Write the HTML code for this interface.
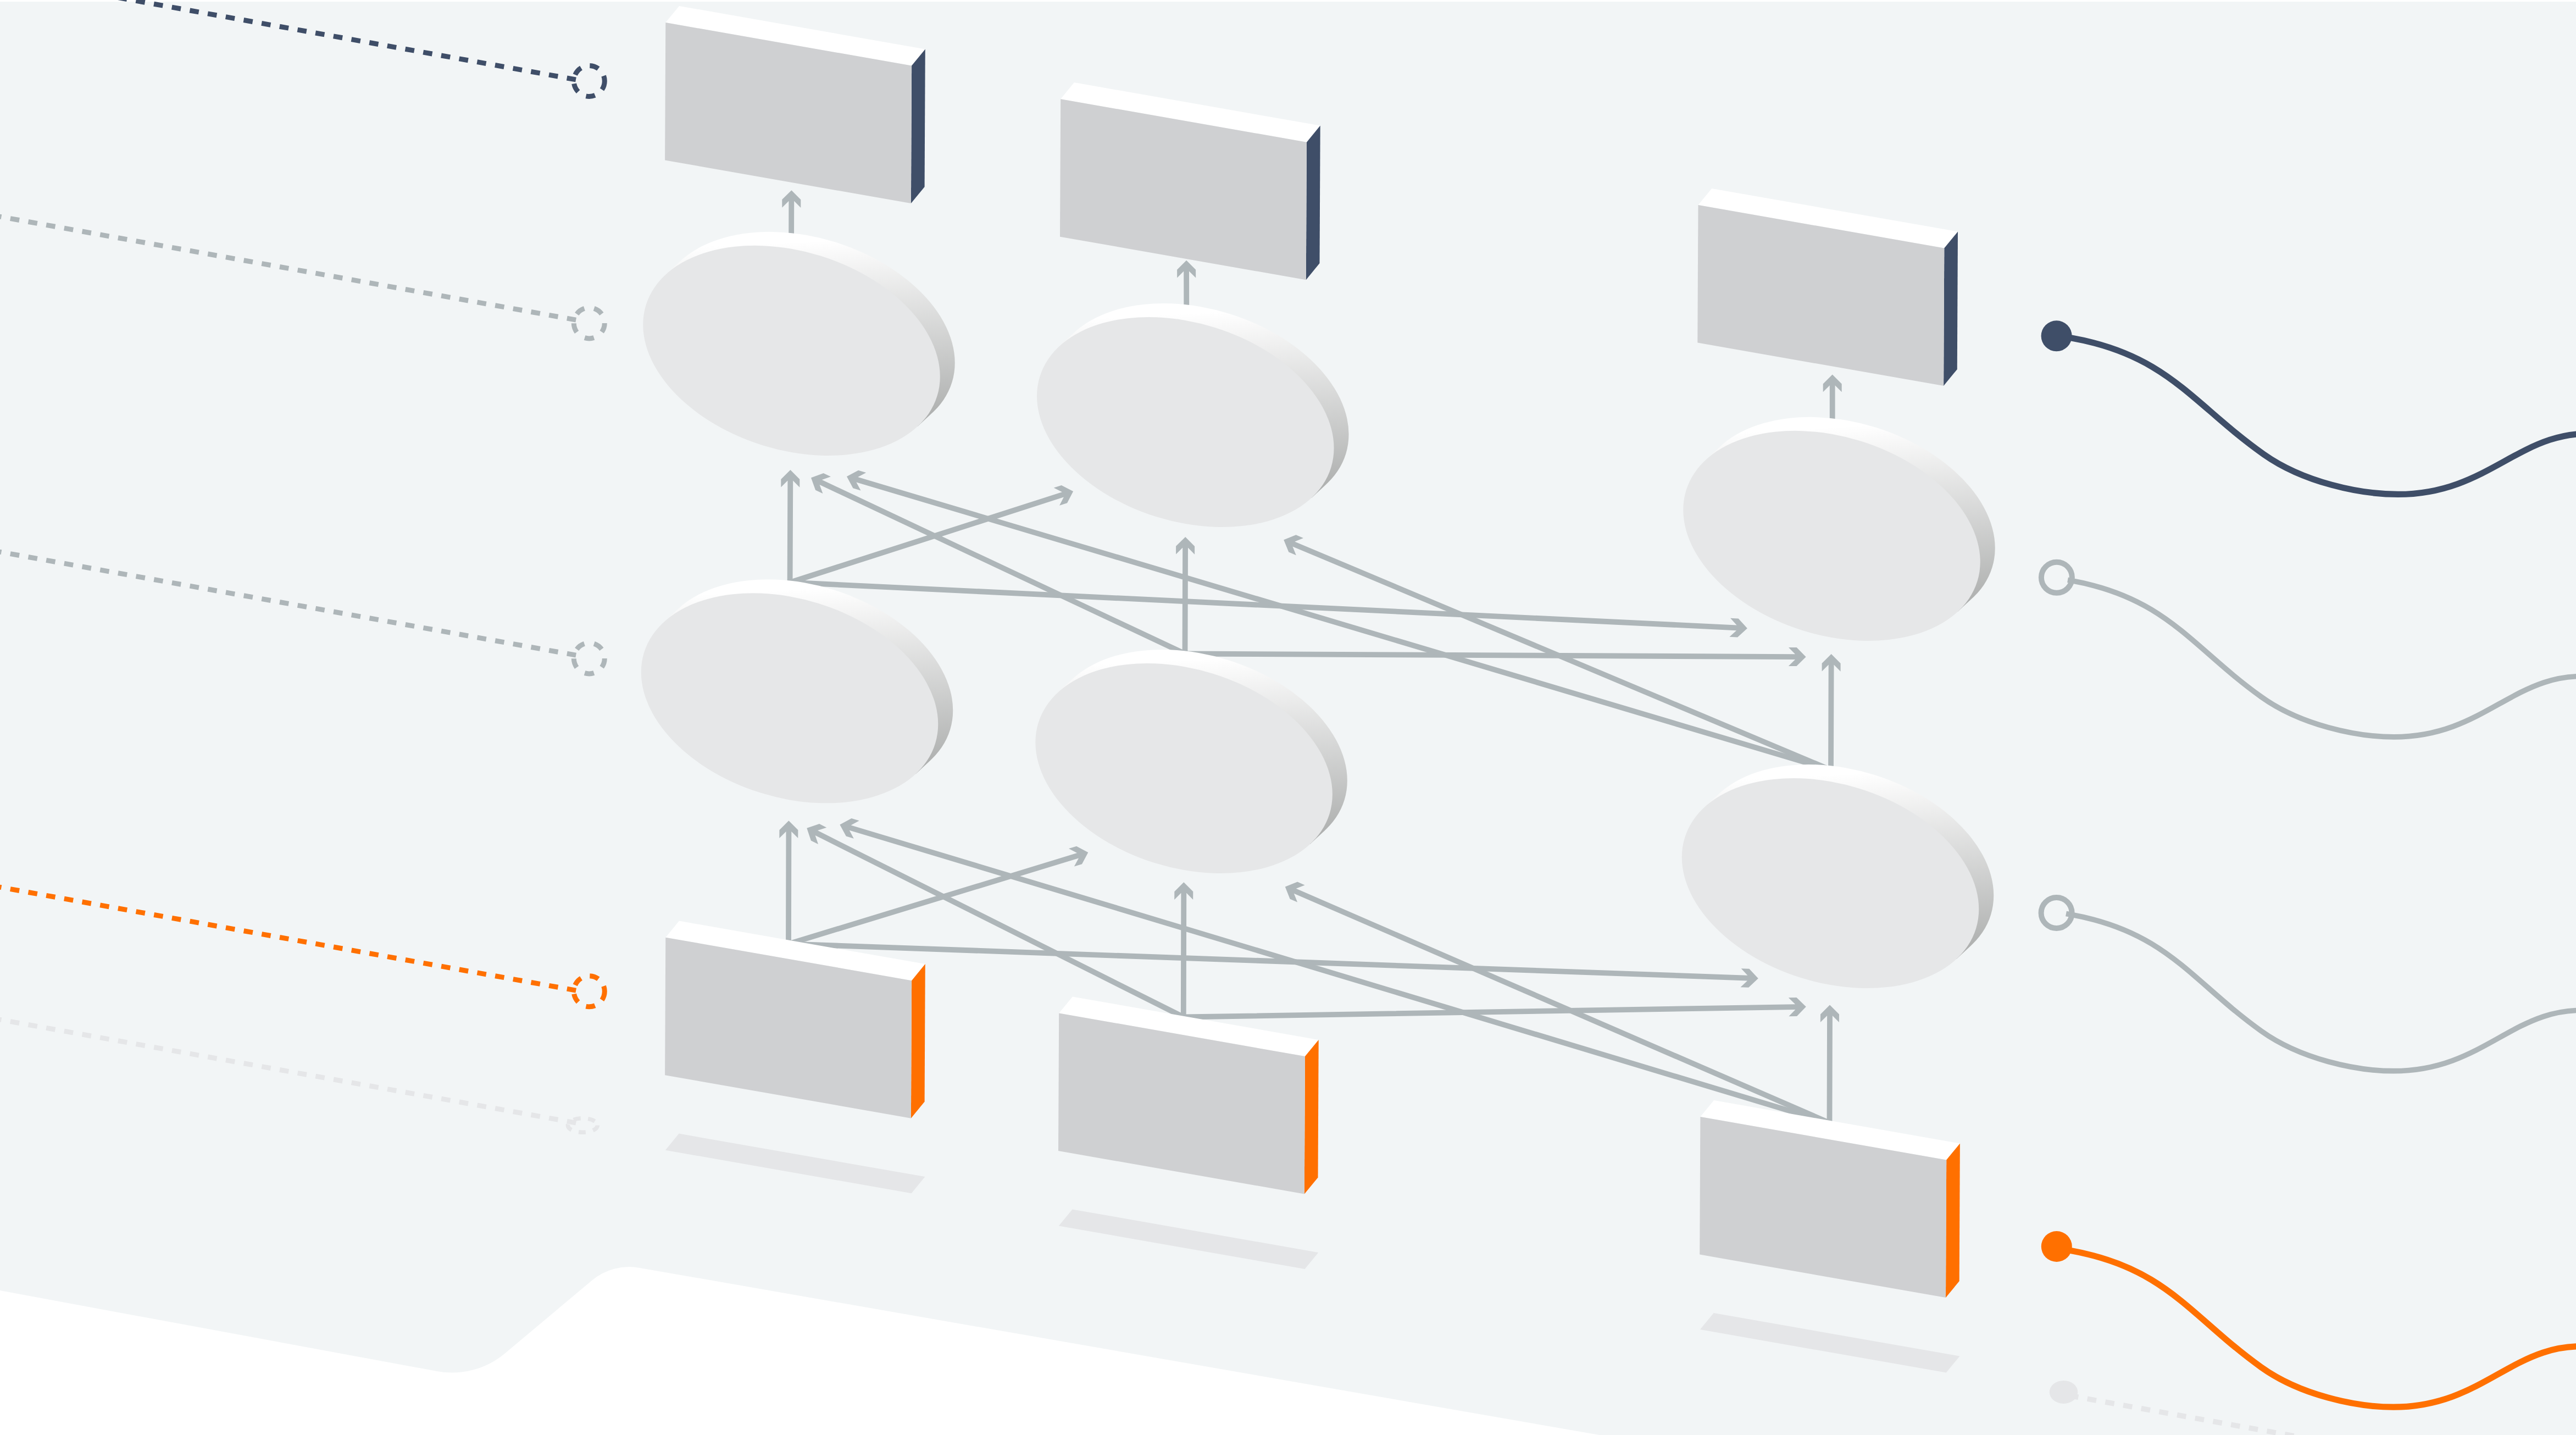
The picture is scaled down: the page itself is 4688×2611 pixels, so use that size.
<!DOCTYPE html>
<html><head><meta charset="utf-8"><title>Network layers illustration</title>
<style>html,body{margin:0;padding:0;background:#fff}svg{display:block}</style></head>
<body>
<svg xmlns="http://www.w3.org/2000/svg" width="4688" height="2611" viewBox="0 0 4688 2611">
<rect width="4688" height="2611" fill="#fff"/>
<path d="M0,3 L4688,3 L4688,2611 L2910.8,2611 L1162.8,2306.7 A105,105 0 0 0 1077.3,2329.7 L918.9,2462.4 A150,150 0 0 1 795.3,2495 L0,2348.1 Z" fill="#f2f5f6"/>
<path d="M1048,144.9 L-60,-53.7" stroke="#3f4e68" stroke-width="9" stroke-dasharray="16.6 16.6" fill="none"/>
<circle cx="1072.3" cy="147.4" r="28" stroke="#3f4e68" stroke-width="9" stroke-dasharray="16.6 16.6" fill="none"/>
<path d="M1048.2,582.1 L-60,383.5" stroke="#aeb6b9" stroke-width="9" stroke-dasharray="16.6 16.6" fill="none"/>
<circle cx="1072.3" cy="587.9" r="28" stroke="#aeb6b9" stroke-width="9" stroke-dasharray="17.1 18.09" fill="none"/>
<path d="M1048.2,1192.1 L-60,993.5" stroke="#aeb6b9" stroke-width="9" stroke-dasharray="16.6 16.6" fill="none"/>
<circle cx="1072.3" cy="1197.9" r="28" stroke="#aeb6b9" stroke-width="9" stroke-dasharray="17.1 18.09" fill="none"/>
<path d="M1048.2,1802.1 L-60,1603.5" stroke="#ff7000" stroke-width="9" stroke-dasharray="16.6 16.6" fill="none"/>
<circle cx="1072.3" cy="1803.8" r="28" stroke="#ff7000" stroke-width="9" stroke-dasharray="16.6 16.6" fill="none"/>
<path d="M1048.2,2043.1 L-60,1844.5" stroke="#e5e6e8" stroke-width="9" stroke-dasharray="16.6 16.6" fill="none"/>
<ellipse cx="1060.4" cy="2047.5" rx="27" ry="12.75" stroke="#e5e6e8" stroke-width="7.5" stroke-dasharray="13 13.5" fill="none"/>
<g fill="#aeb6b9">
<path d="M1440.4,346.2 L1457.3,363.3 L1457.3,378 L1445.2,365.8 L1445,440 L1435.2,440 L1435.4,365.8 L1423.3,377.8 L1423.3,363.1Z"/>
<path d="M2159.1,473.8 L2176.1,490.8 L2176.2,505.5 L2164,493.4 L2164.2,570 L2154.4,570 L2154.2,493.4 L2142.2,505.5 L2142.1,490.8Z"/>
<path d="M3334.7,681.6 L3351.7,698.6 L3351.7,713.3 L3339.6,701.2 L3339.6,775 L3329.8,775 L3329.8,701.2 L3317.7,713.3 L3317.7,698.6Z"/>
<path d="M1438.4,855 L1455.3,872.1 L1455.3,886.8 L1443.2,874.6 L1442.5,1059.7 L1432.7,1059.7 L1433.4,874.6 L1421.3,886.6 L1421.3,871.9Z"/>
<path d="M1953.1,893.9 L1942.1,915.3 L1928.1,919.8 L1935.9,904.6 L1439.1,1064.4 L1436.1,1055 L1932.9,895.2 L1917.7,887.4 L1931.7,882.9Z"/>
<path d="M3179.9,1143.2 L3162.1,1159.4 L3147.4,1158.7 L3160.1,1147.2 L1437.4,1064.6 L1437.8,1054.8 L3160.6,1137.4 L3149.1,1124.7 L3163.7,1125.4Z"/>
<path d="M2157.2,976.9 L2174.1,994 L2174.1,1008.7 L2162,996.5 L2161.4,1189.5 L2151.6,1189.5 L2152.2,996.5 L2140.1,1008.5 L2140.1,993.8Z"/>
<path d="M1476,869.2 L1498.6,861.1 L1511.9,867.3 L1495.8,873.1 L2158.6,1185.1 L2154.4,1193.9 L1491.6,882 L1497.4,898.1 L1484.1,891.8Z"/>
<path d="M3286.6,1195.2 L3269.5,1212.1 L3254.8,1212 L3267,1200 L2156.5,1194.4 L2156.5,1184.6 L3267,1190.2 L3255,1178 L3269.7,1178.1Z"/>
<path d="M3332.7,1190 L3349.6,1207.1 L3349.6,1221.8 L3337.5,1209.6 L3336.9,1401 L3327.1,1401 L3327.7,1209.6 L3315.6,1221.6 L3315.6,1206.9Z"/>
<path d="M2336.2,982.3 L2358.5,973.2 L2372,978.9 L2356.2,985.4 L3333.9,1396.5 L3330.1,1405.5 L2352.4,994.4 L2358.8,1010.3 L2345.3,1004.6Z"/>
<path d="M1541,867.1 L1562.1,855.7 L1576.2,859.9 L1561.2,868 L3333.4,1396.3 L3330.6,1405.7 L1558.4,877.4 L1566.5,892.4 L1552.4,888.2Z"/>
<path d="M1435.4,1493.3 L1452.4,1510.3 L1452.3,1525 L1440.3,1512.9 L1439.9,1717.5 L1430.1,1717.5 L1430.5,1512.9 L1418.3,1525 L1418.4,1510.3Z"/>
<path d="M1980.3,1551.1 L1969,1572.3 L1954.9,1576.6 L1963,1561.5 L1436.4,1722.2 L1433.6,1712.8 L1960.1,1552.1 L1945,1544.1 L1959.1,1539.8Z"/>
<path d="M3199.8,1780.3 L3182.2,1796.7 L3167.5,1796.2 L3180,1784.5 L1434.8,1722.4 L1435.2,1712.6 L3180.4,1774.7 L3168.7,1762.2 L3183.4,1762.7Z"/>
<path d="M2154.3,1605.2 L2171.3,1622.2 L2171.2,1636.9 L2159.2,1624.8 L2158.7,1850.5 L2148.9,1850.5 L2149.4,1624.8 L2137.2,1636.9 L2137.3,1622.2Z"/>
<path d="M1468.3,1506.7 L1491.1,1499.1 L1504.3,1505.7 L1488,1511.1 L2156,1846.1 L2151.6,1854.9 L1483.6,1519.9 L1489,1536.1 L1475.9,1529.5Z"/>
<path d="M3286.8,1831.8 L3270.1,1849.1 L3255.4,1849.3 L3267.3,1837 L2153.9,1855.4 L2153.7,1845.6 L3267.1,1827.2 L3254.8,1815.3 L3269.5,1815.1Z"/>
<path d="M3330,1828.4 L3347,1845.4 L3346.9,1860.1 L3334.9,1848 L3334.4,2043 L3324.6,2043 L3325.1,1848 L3312.9,1860.1 L3313,1845.4Z"/>
<path d="M2338.8,1613.4 L2361.2,1604.6 L2374.6,1610.4 L2358.7,1616.7 L3331.4,2038.5 L3327.6,2047.5 L2354.8,1625.7 L2361.1,1641.6 L2347.6,1635.8Z"/>
<path d="M1528.4,1500.4 L1549.6,1489 L1563.7,1493.3 L1548.6,1501.4 L3330.9,2038.3 L3328.1,2047.7 L1545.8,1510.7 L1553.8,1525.8 L1539.8,1521.6Z"/>
</g>
<polygon points="1210.9,2092.7 1235.6,2062.6 1683.4,2141.1 1658.7,2171.2" fill="#e5e6e8"/>
<polygon points="1926.8,2230.5 1951.5,2200.4 2399.3,2278.9 2374.6,2309" fill="#e5e6e8"/>
<polygon points="3094,2419.1 3118.7,2389 3566.5,2467.5 3541.8,2497.6" fill="#e5e6e8"/>
<polygon points="1211.3,41 1236,10.9 1683.8,89.4 1659.1,119.5" fill="#fff"/>
<polygon points="1659.1,119.5 1683.8,89.4 1682.6,339.9 1657.9,370" fill="#3f4e68"/>
<polygon points="1211.3,41 1659.1,119.5 1657.9,370 1210.1,291.5" fill="#cfd0d2"/>
<polygon points="1930.2,180.2 1954.9,150.1 2402.7,228.6 2378,258.7" fill="#fff"/>
<polygon points="2378,258.7 2402.7,228.6 2401.5,479.1 2376.8,509.2" fill="#3f4e68"/>
<polygon points="1930.2,180.2 2378,258.7 2376.8,509.2 1929,430.7" fill="#cfd0d2"/>
<polygon points="3090.5,373 3115.2,342.9 3563,421.4 3538.3,451.5" fill="#fff"/>
<polygon points="3538.3,451.5 3563,421.4 3561.8,671.9 3537.1,702" fill="#3f4e68"/>
<polygon points="3090.5,373 3538.3,451.5 3537.1,702 3089.3,623.5" fill="#cfd0d2"/>
<polygon points="1211.3,1705.7 1236,1675.6 1683.8,1754.1 1659.1,1784.2" fill="#fff"/>
<polygon points="1659.1,1784.2 1683.8,1754.1 1682.6,2004.6 1657.9,2034.7" fill="#ff7000"/>
<polygon points="1211.3,1705.7 1659.1,1784.2 1657.9,2034.7 1210.1,1956.2" fill="#cfd0d2"/>
<polygon points="1927.2,1843.5 1951.9,1813.4 2399.7,1891.9 2375,1922" fill="#fff"/>
<polygon points="2375,1922 2399.7,1891.9 2398.5,2142.4 2373.8,2172.5" fill="#ff7000"/>
<polygon points="1927.2,1843.5 2375,1922 2373.8,2172.5 1926,2094" fill="#cfd0d2"/>
<polygon points="3094.4,2032.1 3119.1,2002 3566.9,2080.5 3542.2,2110.6" fill="#fff"/>
<polygon points="3542.2,2110.6 3566.9,2080.5 3565.7,2331 3541,2361.1" fill="#ff7000"/>
<polygon points="3094.4,2032.1 3542.2,2110.6 3541,2361.1 3093.2,2282.6" fill="#cfd0d2"/>
<defs><linearGradient id="rim" gradientUnits="userSpaceOnUse" x1="-10" y1="-197" x2="10" y2="191"><stop offset="0" stop-color="#ffffff"/><stop offset="1" stop-color="#a0a2a1"/></linearGradient></defs>
<g transform="translate(1440.5,637.9)">
<path d="M297.25,22.27 A277.59,180.20 17.48 0 1 27.00,160.10 A277.59,180.20 17.48 0 1 -243.25,-72.27 A277.59,180.20 17.48 0 1 27.00,-210.10 A277.59,180.20 17.48 0 1 297.25,22.27 Z M-229.5,-137.9 L-202.5,-162.9 L256.5,112.9 L229.5,137.9 Z" fill="url(#rim)"/>
<path d="M270.25,47.27 A277.59,180.20 17.48 0 1 0.00,185.10 A277.59,180.20 17.48 0 1 -270.25,-47.27 A277.59,180.20 17.48 0 1 -0.00,-185.10 A277.59,180.20 17.48 0 1 270.25,47.27 Z" fill="#e6e7e8"/>
</g>
<g transform="translate(2157.3,768)">
<path d="M297.25,22.27 A277.59,180.20 17.48 0 1 27.00,160.10 A277.59,180.20 17.48 0 1 -243.25,-72.27 A277.59,180.20 17.48 0 1 27.00,-210.10 A277.59,180.20 17.48 0 1 297.25,22.27 Z M-229.5,-137.9 L-202.5,-162.9 L256.5,112.9 L229.5,137.9 Z" fill="url(#rim)"/>
<path d="M270.25,47.27 A277.59,180.20 17.48 0 1 0.00,185.10 A277.59,180.20 17.48 0 1 -270.25,-47.27 A277.59,180.20 17.48 0 1 -0.00,-185.10 A277.59,180.20 17.48 0 1 270.25,47.27 Z" fill="#e6e7e8"/>
</g>
<g transform="translate(3333.5,974.9)">
<path d="M297.25,22.27 A277.59,180.20 17.48 0 1 27.00,160.10 A277.59,180.20 17.48 0 1 -243.25,-72.27 A277.59,180.20 17.48 0 1 27.00,-210.10 A277.59,180.20 17.48 0 1 297.25,22.27 Z M-229.5,-137.9 L-202.5,-162.9 L256.5,112.9 L229.5,137.9 Z" fill="url(#rim)"/>
<path d="M270.25,47.27 A277.59,180.20 17.48 0 1 0.00,185.10 A277.59,180.20 17.48 0 1 -270.25,-47.27 A277.59,180.20 17.48 0 1 -0.00,-185.10 A277.59,180.20 17.48 0 1 270.25,47.27 Z" fill="#e6e7e8"/>
</g>
<g transform="translate(1437,1270.3)">
<path d="M297.25,22.27 A277.59,180.20 17.48 0 1 27.00,160.10 A277.59,180.20 17.48 0 1 -243.25,-72.27 A277.59,180.20 17.48 0 1 27.00,-210.10 A277.59,180.20 17.48 0 1 297.25,22.27 Z M-229.5,-137.9 L-202.5,-162.9 L256.5,112.9 L229.5,137.9 Z" fill="url(#rim)"/>
<path d="M270.25,47.27 A277.59,180.20 17.48 0 1 0.00,185.10 A277.59,180.20 17.48 0 1 -270.25,-47.27 A277.59,180.20 17.48 0 1 -0.00,-185.10 A277.59,180.20 17.48 0 1 270.25,47.27 Z" fill="#e6e7e8"/>
</g>
<g transform="translate(2154.6,1398)">
<path d="M297.25,22.27 A277.59,180.20 17.48 0 1 27.00,160.10 A277.59,180.20 17.48 0 1 -243.25,-72.27 A277.59,180.20 17.48 0 1 27.00,-210.10 A277.59,180.20 17.48 0 1 297.25,22.27 Z M-229.5,-137.9 L-202.5,-162.9 L256.5,112.9 L229.5,137.9 Z" fill="url(#rim)"/>
<path d="M270.25,47.27 A277.59,180.20 17.48 0 1 0.00,185.10 A277.59,180.20 17.48 0 1 -270.25,-47.27 A277.59,180.20 17.48 0 1 -0.00,-185.10 A277.59,180.20 17.48 0 1 270.25,47.27 Z" fill="#e6e7e8"/>
</g>
<g transform="translate(3331,1607)">
<path d="M297.25,22.27 A277.59,180.20 17.48 0 1 27.00,160.10 A277.59,180.20 17.48 0 1 -243.25,-72.27 A277.59,180.20 17.48 0 1 27.00,-210.10 A277.59,180.20 17.48 0 1 297.25,22.27 Z M-229.5,-137.9 L-202.5,-162.9 L256.5,112.9 L229.5,137.9 Z" fill="url(#rim)"/>
<path d="M270.25,47.27 A277.59,180.20 17.48 0 1 0.00,185.10 A277.59,180.20 17.48 0 1 -270.25,-47.27 A277.59,180.20 17.48 0 1 -0.00,-185.10 A277.59,180.20 17.48 0 1 270.25,47.27 Z" fill="#e6e7e8"/>
</g>
<path d="M3763,613.7 L3770,615 C3946,646.5 3991.2,736 4120,826.8 C4192.1,877.6 4294.6,899.4 4364,899.4 C4536.9,899.4 4588.6,771.9 4740,790.8" stroke="#3f4e68" stroke-width="11.2" fill="none"/>
<circle cx="3742.6" cy="611.3" r="28" fill="#3f4e68"/>
<path d="M3763,1055.3 L3769.9,1056.5 C3943.8,1088 3988.5,1177.5 4115.7,1268.3 C4186.9,1319.1 4288.2,1340.9 4356.8,1340.9 C4527.6,1340.9 4578.7,1213.4 4728.3,1232.3" stroke="#aeb6b9" stroke-width="9.7" fill="none"/>
<circle cx="3742.9" cy="1050.8" r="28" fill="none" stroke="#aeb6b9" stroke-width="10"/>
<path d="M3760,1662.5 L3769.9,1664.3 C3943.6,1695.8 3988.3,1785.3 4115.4,1876.1 C4186.5,1926.9 4287.7,1948.7 4356.2,1948.7 C4526.8,1948.7 4577.9,1821.2 4727.3,1840.1" stroke="#aeb6b9" stroke-width="9.7" fill="none"/>
<circle cx="3742.6" cy="1661" r="28" fill="none" stroke="#aeb6b9" stroke-width="10"/>
<path d="M3763,2274.6 L3769.9,2275.8 C3943.4,2307.3 3988,2396.8 4115,2487.6 C4186.1,2538.4 4287.2,2560.2 4355.6,2560.2 C4526.1,2560.2 4577,2432.7 4726.3,2451.6" stroke="#ff7000" stroke-width="11.2" fill="none"/>
<circle cx="3742.8" cy="2268" r="28" fill="#ff7000"/>
<ellipse cx="3755.5" cy="2532.9" rx="25.7" ry="21" fill="#e5e6e8"/>
<path d="M3766,2539.3 L4766,2719" stroke="#e5e6e8" stroke-width="9.5" stroke-dasharray="16.6 16.6" fill="none"/>
</svg>
</body></html>
